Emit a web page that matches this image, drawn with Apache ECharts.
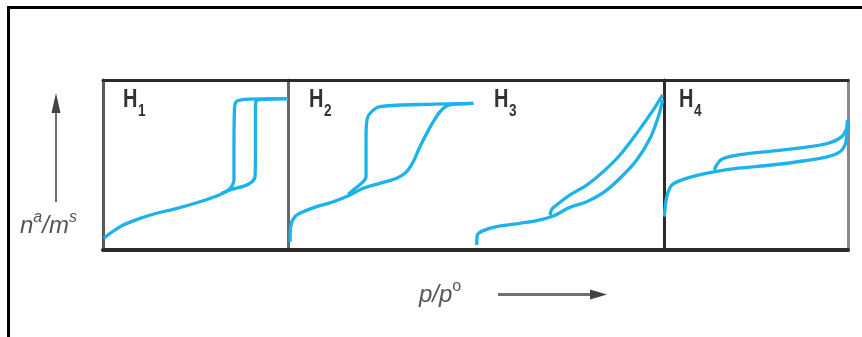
<!DOCTYPE html>
<html><head><meta charset="utf-8">
<script src="https://cdn.jsdelivr.net/npm/echarts@6/dist/echarts.min.js"></script>
<style>html,body{margin:0;padding:0;background:#fff}#c{width:862px;height:337px}</style>
</head><body><div id="c"></div>
<script>
// Panel labels (H with subscript)
const panelNames = ['H', 'H', 'H', 'H'];
const panelSubs = ['1', '2', '3', '4'];

// Relative p/p° (0..1 inside each panel) and relative amount adsorbed (0..1 of panel height)
const h1Adsorption = [[0.005,0.069],[0.038,0.098],[0.11,0.147],[0.2,0.186],[0.29,0.216],[0.40,0.245],[0.524,0.284],[0.615,0.318],[0.686,0.353],[0.758,0.374],[0.804,0.40],[0.822,0.435],[0.824,0.588],[0.824,0.824],[0.827,0.874],[0.849,0.885],[1.0,0.891]];
const h1Desorption = [[1.0,0.891],[0.795,0.888],[0.741,0.882],[0.719,0.871],[0.711,0.835],[0.708,0.588],[0.708,0.412],[0.697,0.376],[0.676,0.353],[0.64,0.333]];

const h2Adsorption = [[0.011,0.049],[0.014,0.137],[0.037,0.196],[0.081,0.225],[0.153,0.255],[0.241,0.284],[0.33,0.324],[0.40,0.363],[0.489,0.392],[0.578,0.422],[0.631,0.461],[0.666,0.519],[0.702,0.608],[0.738,0.686],[0.773,0.755],[0.809,0.814],[0.844,0.847],[0.879,0.857],[0.986,0.863]];
const h2Desorption = [[0.986,0.863],[0.702,0.856],[0.489,0.843],[0.445,0.814],[0.422,0.775],[0.415,0.666],[0.415,0.51],[0.415,0.431],[0.40,0.402],[0.365,0.369],[0.32,0.328]];

const h3Adsorption = [[0.004,0.029],[0.007,0.088],[0.039,0.114],[0.11,0.137],[0.234,0.157],[0.323,0.173],[0.411,0.2],[0.5,0.251],[0.589,0.284],[0.677,0.337],[0.766,0.422],[0.855,0.529],[0.926,0.657],[0.97,0.784],[0.993,0.882]];
const h3Desorption = [[0.993,0.912],[0.943,0.824],[0.855,0.686],[0.766,0.559],[0.677,0.461],[0.589,0.382],[0.5,0.324],[0.429,0.265],[0.403,0.239],[0.394,0.206]];

const h4Adsorption = [[0.002,0.196],[0.015,0.314],[0.042,0.382],[0.096,0.412],[0.186,0.441],[0.277,0.461],[0.404,0.481],[0.585,0.5],[0.766,0.525],[0.893,0.549],[0.957,0.578],[0.984,0.618],[0.993,0.667],[0.997,0.765]];
const h4Desorption = [[0.997,0.753],[0.993,0.716],[0.966,0.667],[0.893,0.628],[0.766,0.604],[0.585,0.582],[0.404,0.559],[0.314,0.534],[0.286,0.5],[0.273,0.471]];

const curveColor = '#1cb2ec';
const frameDark = '#2b2b2b';

const chart = echarts.init(document.getElementById('c'), null, {renderer: 'canvas'});

const hidden = {show:false};
function dataAxisX(grid, min, max) {
  return {type:'value', gridIndex:grid, min:min, max:max, show:false, splitLine:hidden};
}
function dataAxisY(grid, line) {
  return {type:'value', gridIndex:grid, min:0, max:1, position:'left', show: !!line,
    axisLine: line ? {show:true, onZero:false, lineStyle: line} : hidden,
    axisTick:hidden, axisLabel:hidden, splitLine:hidden};
}
function curve(xi, yi, data) {
  return {type:'line', xAxisIndex:xi, yAxisIndex:yi, data:data, showSymbol:false, symbol:'none',
    smooth:0.3, clip:false, lineStyle:{color:curveColor, width:3.3}, silent:true, z:3};
}

const labelX = [123, 309, 494, 679];
const graphics = [
  {type:'line', shape:{x1:8.5, y1:7.5, x2:862, y2:7.5}, style:{stroke:'#000', lineWidth:3}},
  {type:'line', shape:{x1:8.5, y1:6, x2:8.5, y2:337}, style:{stroke:'#000', lineWidth:3}},
  {type:'line', shape:{x1:56, y1:202, x2:56, y2:108}, style:{stroke:'#707070', lineWidth:2}},
  {type:'polygon', shape:{points:[[56,93],[51.5,113],[60.5,113]]}, style:{fill:'#444'}},
  {type:'line', shape:{x1:498, y1:294.5, x2:594, y2:294.5}, style:{stroke:'#707070', lineWidth:3}},
  {type:'polygon', shape:{points:[[607,294.5],[590,289.5],[590,299.5]]}, style:{fill:'#444'}}
];
panelNames.forEach((n, i) => {
  graphics.push({type:'text', x:labelX[i], y:88, scaleX:0.8, z:10,
    style:{text:n, font:'bold 25px "Liberation Sans", sans-serif', fill:'#333', verticalAlign:'top'}});
  graphics.push({type:'text', x:labelX[i] + 15, y:104, scaleX:0.85, z:10,
    style:{text:panelSubs[i], font:'bold 16px "Liberation Sans", sans-serif', fill:'#333', verticalAlign:'top'}});
});

const labelFont = '"Liberation Sans", sans-serif';
const option = {
  animation:false,
  backgroundColor:'#fff',
  title:[
    {text:'{i|n}{s|a}{i|/m}{s|s}', left:20, top:210, padding:0,
      textStyle:{fontWeight:'normal', rich:{
        i:{fontFamily:labelFont, fontStyle:'italic', fontWeight:'normal', fontSize:24, color:'#555', verticalAlign:'bottom', lineHeight:28},
        s:{fontFamily:labelFont, fontStyle:'italic', fontWeight:'normal', fontSize:16, color:'#555', verticalAlign:'top', lineHeight:26}
      }}},
    {text:'{i|p/p}{s|o}', left:419, top:279, padding:0,
      textStyle:{fontWeight:'normal', rich:{
        i:{fontFamily:labelFont, fontStyle:'italic', fontWeight:'normal', fontSize:24, color:'#555', verticalAlign:'bottom', lineHeight:28},
        s:{fontFamily:labelFont, fontWeight:'normal', fontSize:16, color:'#555', verticalAlign:'top', lineHeight:26}
      }}}
  ],
  grid:[
    {left:103, top:80, width:745, height:170, show:false},
    {left:103, top:80, width:185, height:170, show:false},
    {left:288, top:80, width:376, height:170, show:false},
    {left:664, top:80, width:184, height:170, show:false}
  ],
  xAxis:[
    {type:'value', gridIndex:0, min:0, max:1, position:'bottom', axisLine:{show:true, onZero:false, lineStyle:{color:frameDark, width:4}}, axisTick:hidden, axisLabel:hidden, splitLine:hidden},
    {type:'value', gridIndex:0, min:0, max:1, position:'top', axisLine:{show:true, onZero:false, lineStyle:{color:frameDark, width:3}}, axisTick:hidden, axisLabel:hidden, splitLine:hidden},
    dataAxisX(1, 0, 1),
    dataAxisX(2, 0, 2),
    dataAxisX(2, -1, 1),
    dataAxisX(3, 0, 1)
  ],
  yAxis:[
    {type:'value', gridIndex:0, min:0, max:1, position:'left', axisLine:{show:true, onZero:false, lineStyle:{color:'#5a5a5a', width:3}}, axisTick:hidden, axisLabel:hidden, splitLine:hidden},
    {type:'value', gridIndex:0, min:0, max:1, position:'right', axisLine:{show:true, onZero:false, lineStyle:{color:'#8a8a8a', width:3}}, axisTick:hidden, axisLabel:hidden, splitLine:hidden},
    dataAxisY(1, null),
    dataAxisY(2, {color:'#666', width:3}),
    dataAxisY(3, {color:frameDark, width:3})
  ],
  series:[
    curve(2, 2, h1Adsorption), curve(2, 2, h1Desorption),
    curve(3, 3, h2Adsorption), curve(3, 3, h2Desorption),
    curve(4, 3, h3Adsorption), curve(4, 3, h3Desorption),
    curve(5, 4, h4Adsorption), curve(5, 4, h4Desorption)
  ],
  graphic:graphics
};
chart.setOption(option);
</script>
</body></html>
